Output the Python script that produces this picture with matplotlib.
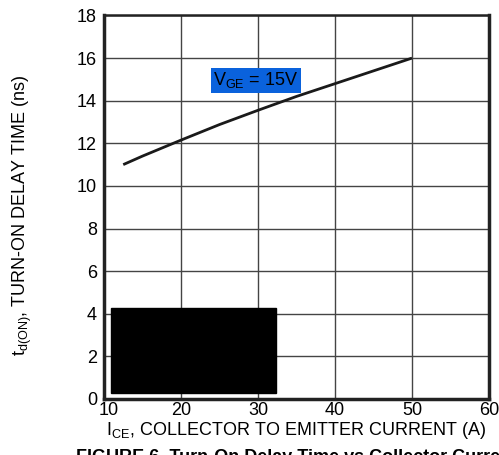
import matplotlib
matplotlib.use("Agg")
import matplotlib.pyplot as plt
import matplotlib.transforms as mtransforms
from matplotlib.patches import Rectangle

plt.rcParams['font.family'] = ['Liberation Sans', 'DejaVu Sans']
plt.rcParams['mathtext.fontset'] = 'custom'
plt.rcParams['mathtext.rm'] = 'Liberation Sans'
plt.rcParams['mathtext.it'] = 'Liberation Sans:italic'

# curve
ice = [12.5, 15, 20, 25, 30, 35, 40, 45, 50]
td_on = [11.0, 11.4, 12.15, 12.88, 13.55, 14.2, 14.8, 15.4, 16.0]

x_ticks = [10, 20, 30, 40, 50, 60]
y_ticks = [0, 2, 4, 6, 8, 10, 12, 14, 16, 18]

fig = plt.figure(figsize=(4.99, 4.55), dpi=100)
ax = fig.add_axes([0.2084, 0.1231, 0.7716, 0.8429])

ax.plot(ice, td_on, color='#1a1a1a', lw=2.0, solid_capstyle='butt')

ax.set_xlim(10, 60)
ax.set_ylim(0, 18)
ax.set_xticks(x_ticks)
ax.set_yticks(y_ticks)
ax.grid(True, color='#444444', lw=1.0)
ax.tick_params(length=0, labelsize=13)
ax.tick_params(axis='y', pad=5)
ax.tick_params(axis='x', pad=2)
for s in ax.spines.values():
    s.set_color('#222222')
    s.set_linewidth(2.5)
ax.spines['top'].set_linewidth(1.8)

# first x label sits a bit to the right in the source
lbl = ax.get_xticklabels()[0]
lbl.set_transform(lbl.get_transform() + mtransforms.ScaledTranslation(5 / 100, 0, fig.dpi_scale_trans))

# black box covering the lower left (as in the source)
ax.add_patch(Rectangle((10.9, 0.28), 21.4, 4.0, color='black', zorder=5))

ax.text(24.2, 14.95, r'$\mathregular{V_{GE}}$ = 15V', fontsize=13, va='center',
        bbox=dict(facecolor='#0a62dc', edgecolor='none', pad=1.5))

ax.set_ylabel(r'$\mathregular{t_{d(ON)}}$, TURN-ON DELAY TIME (ns)', fontsize=13)
ax.yaxis.set_label_coords(-0.182, 0.48)
ax.set_xlabel(r'$\mathregular{I_{CE}}$, COLLECTOR TO EMITTER CURRENT (A)', fontsize=13, labelpad=1)

fig.text(0.594, 0.013, 'FIGURE 6. Turn-On Delay Time vs Collector Current',
         fontsize=13, fontweight='bold', ha='center', va='top')

fig.savefig('out.png', dpi=100)
